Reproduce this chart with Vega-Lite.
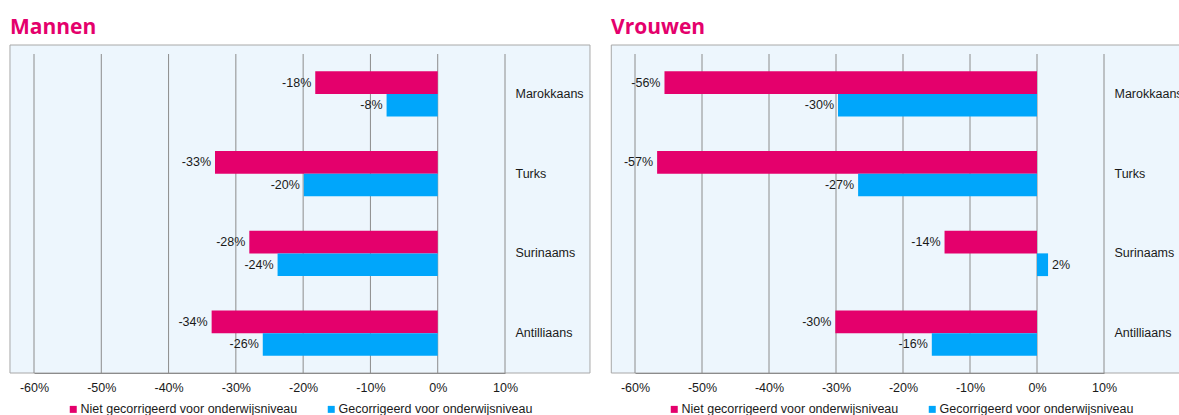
{
  "$schema": "https://vega.github.io/schema/vega-lite/v6.json",
  "padding": {"left": 9, "top": 16, "right": 0, "bottom": 0},
  "background": "white",
  "datasets": {
    "d": [
      {"panel": "Mannen", "groep": "Marokkaans", "serie": "Niet gecorrigeerd voor onderwijsniveau", "v": -0.182},
      {"panel": "Mannen", "groep": "Marokkaans", "serie": "Gecorrigeerd voor onderwijsniveau", "v": -0.076},
      {"panel": "Mannen", "groep": "Turks", "serie": "Niet gecorrigeerd voor onderwijsniveau", "v": -0.331},
      {"panel": "Mannen", "groep": "Turks", "serie": "Gecorrigeerd voor onderwijsniveau", "v": -0.199},
      {"panel": "Mannen", "groep": "Surinaams", "serie": "Niet gecorrigeerd voor onderwijsniveau", "v": -0.280},
      {"panel": "Mannen", "groep": "Surinaams", "serie": "Gecorrigeerd voor onderwijsniveau", "v": -0.238},
      {"panel": "Mannen", "groep": "Antilliaans", "serie": "Niet gecorrigeerd voor onderwijsniveau", "v": -0.336},
      {"panel": "Mannen", "groep": "Antilliaans", "serie": "Gecorrigeerd voor onderwijsniveau", "v": -0.260},
      {"panel": "Vrouwen", "groep": "Marokkaans", "serie": "Niet gecorrigeerd voor onderwijsniveau", "v": -0.556},
      {"panel": "Vrouwen", "groep": "Marokkaans", "serie": "Gecorrigeerd voor onderwijsniveau", "v": -0.297},
      {"panel": "Vrouwen", "groep": "Turks", "serie": "Niet gecorrigeerd voor onderwijsniveau", "v": -0.567},
      {"panel": "Vrouwen", "groep": "Turks", "serie": "Gecorrigeerd voor onderwijsniveau", "v": -0.267},
      {"panel": "Vrouwen", "groep": "Surinaams", "serie": "Niet gecorrigeerd voor onderwijsniveau", "v": -0.138},
      {"panel": "Vrouwen", "groep": "Surinaams", "serie": "Gecorrigeerd voor onderwijsniveau", "v": 0.0165},
      {"panel": "Vrouwen", "groep": "Antilliaans", "serie": "Niet gecorrigeerd voor onderwijsniveau", "v": -0.301},
      {"panel": "Vrouwen", "groep": "Antilliaans", "serie": "Gecorrigeerd voor onderwijsniveau", "v": -0.157}
    ],
    "grid": [{"t": -0.6}, {"t": -0.5}, {"t": -0.4}, {"t": -0.3}, {"t": -0.2}, {"t": -0.1}, {"t": 0}, {"t": 0.1}]
  },
  "spacing": 19,
  "resolve": {"legend": {"color": "independent"}},
  "hconcat": [
    {
      "width": 471,
      "height": 319,
      "title": {"text": "Mannen", "anchor": "start", "frame": "group", "dx": -24, "baseline": "alphabetic", "offset": -10},
      "layer": [
        {
          "data": {"values": [{}]},
          "mark": {"type": "rect", "fill": "#EDF6FD", "stroke": "#A8A8A8", "strokeWidth": 1, "yOffset": -9, "y2Offset": 70},
          "encoding": {
            "x": {"datum": -0.6357, "type": "quantitative", "scale": {"domain": [-0.6, 0.1], "nice": false}, "axis": {"values": [-0.6, -0.5, -0.4, -0.3, -0.2, -0.1, 0, 0.1], "format": ".0%", "title": null, "zindex": 1, "labelFlush": false}},
            "x2": {"datum": 0.2263}
          }
        },
        {
          "data": {"name": "grid"},
          "mark": {"type": "rule", "color": "#8C8C8C", "strokeWidth": 1},
          "encoding": {"x": {"field": "t", "type": "quantitative", "axis": {"values": [-0.6, -0.5, -0.4, -0.3, -0.2, -0.1, 0, 0.1], "format": ".0%", "title": null, "zindex": 1, "labelFlush": false}}}
        },
        {
          "data": {"name": "d"},
          "transform": [{"filter": "datum.panel === 'Mannen'"}],
          "encoding": {
            "y": {"field": "groep", "type": "nominal", "sort": ["Marokkaans", "Turks", "Surinaams", "Antilliaans"], "scale": {"paddingInner": 0.43, "paddingOuter": 0.215}, "axis": {"orient": "right", "title": null, "zindex": 1, "labelOverlap": false}},
            "yOffset": {"field": "serie", "type": "nominal", "sort": ["Niet gecorrigeerd voor onderwijsniveau", "Gecorrigeerd voor onderwijsniveau"], "scale": {"paddingInner": 0, "paddingOuter": 0}},
            "x": {"field": "v", "type": "quantitative", "axis": {"values": [-0.6, -0.5, -0.4, -0.3, -0.2, -0.1, 0, 0.1], "format": ".0%", "title": null, "zindex": 1, "labelFlush": false}}
          },
          "layer": [
            {
              "mark": {"type": "bar"},
              "encoding": {
                "color": {"field": "serie", "type": "nominal", "scale": {"domain": ["Niet gecorrigeerd voor onderwijsniveau", "Gecorrigeerd voor onderwijsniveau"], "range": ["#E4006C", "#00A6FB"]}}
              }
            },
            {
              "transform": [{"filter": "datum.v < 0"}],
              "mark": {"type": "text", "align": "right", "dx": -4, "baseline": "middle"},
              "encoding": {"text": {"field": "v", "type": "quantitative", "format": ".0%"}}
            },
            {
              "transform": [{"filter": "datum.v >= 0"}],
              "mark": {"type": "text", "align": "left", "dx": 4, "baseline": "middle"},
              "encoding": {"text": {"field": "v", "type": "quantitative", "format": ".0%"}}
            }
          ]
        }
      ]
    },
    {
      "width": 469,
      "height": 319,
      "title": {"text": "Vrouwen", "anchor": "start", "frame": "group", "dx": -24, "baseline": "alphabetic", "offset": -10},
      "layer": [
        {
          "data": {"values": [{}]},
          "mark": {"type": "rect", "fill": "#EDF6FD", "stroke": "#A8A8A8", "strokeWidth": 1, "yOffset": -9, "y2Offset": 70},
          "encoding": {
            "x": {"datum": -0.6354, "type": "quantitative", "scale": {"domain": [-0.6, 0.1], "nice": false}, "axis": {"values": [-0.6, -0.5, -0.4, -0.3, -0.2, -0.1, 0, 0.1], "format": ".0%", "title": null, "zindex": 1, "labelFlush": false}},
            "x2": {"datum": 0.2283}
          }
        },
        {
          "data": {"name": "grid"},
          "mark": {"type": "rule", "color": "#8C8C8C", "strokeWidth": 1},
          "encoding": {"x": {"field": "t", "type": "quantitative", "axis": {"values": [-0.6, -0.5, -0.4, -0.3, -0.2, -0.1, 0, 0.1], "format": ".0%", "title": null, "zindex": 1, "labelFlush": false}}}
        },
        {
          "data": {"name": "d"},
          "transform": [{"filter": "datum.panel === 'Vrouwen'"}],
          "encoding": {
            "y": {"field": "groep", "type": "nominal", "sort": ["Marokkaans", "Turks", "Surinaams", "Antilliaans"], "scale": {"paddingInner": 0.43, "paddingOuter": 0.215}, "axis": {"orient": "right", "title": null, "zindex": 1, "labelOverlap": false}},
            "yOffset": {"field": "serie", "type": "nominal", "sort": ["Niet gecorrigeerd voor onderwijsniveau", "Gecorrigeerd voor onderwijsniveau"], "scale": {"paddingInner": 0, "paddingOuter": 0}},
            "x": {"field": "v", "type": "quantitative", "axis": {"values": [-0.6, -0.5, -0.4, -0.3, -0.2, -0.1, 0, 0.1], "format": ".0%", "title": null, "zindex": 1, "labelFlush": false}}
          },
          "layer": [
            {
              "mark": {"type": "bar"},
              "encoding": {
                "color": {"field": "serie", "type": "nominal", "scale": {"domain": ["Niet gecorrigeerd voor onderwijsniveau", "Gecorrigeerd voor onderwijsniveau"], "range": ["#E4006C", "#00A6FB"]}}
              }
            },
            {
              "transform": [{"filter": "datum.v < 0"}],
              "mark": {"type": "text", "align": "right", "dx": -4, "baseline": "middle"},
              "encoding": {"text": {"field": "v", "type": "quantitative", "format": ".0%"}}
            },
            {
              "transform": [{"filter": "datum.v >= 0"}],
              "mark": {"type": "text", "align": "left", "dx": 4, "baseline": "middle"},
              "encoding": {"text": {"field": "v", "type": "quantitative", "format": ".0%"}}
            }
          ]
        }
      ]
    }
  ],
  "config": {
    "locale": {"number": {"decimal": ".", "thousands": ",", "grouping": [3], "currency": ["", ""], "minus": "-"}},
    "view": {"stroke": null},
    "font": "Liberation Sans",
    "title": {"font": "Open Sans", "fontSize": 21, "fontWeight": "bold", "color": "#E4006C"},
    "text": {"font": "Liberation Sans", "fontSize": 12.5, "color": "#1A1A1A"},
    "axis": {"zindex": 1, "grid": false, "ticks": false, "labelFont": "Liberation Sans", "labelFontSize": 12.5, "labelColor": "#1A1A1A"},
    "axisX": {"domainColor": "#8C8C8C", "labelPadding": 8, "labelFlush": false},
    "axisY": {"domain": false, "labelPadding": 10, "labelAlign": "left", "labelBaseline": "middle"},
    "legend": {"orient": "none", "legendX": 33, "legendY": 349, "direction": "horizontal", "title": null, "symbolType": "square", "symbolSize": 49, "symbolStrokeWidth": 0, "labelFont": "Liberation Sans", "labelFontSize": 12.5, "labelColor": "#1A1A1A", "labelOffset": 1, "columnPadding": 27, "labelLimit": 400, "padding": 0}
  }
}
